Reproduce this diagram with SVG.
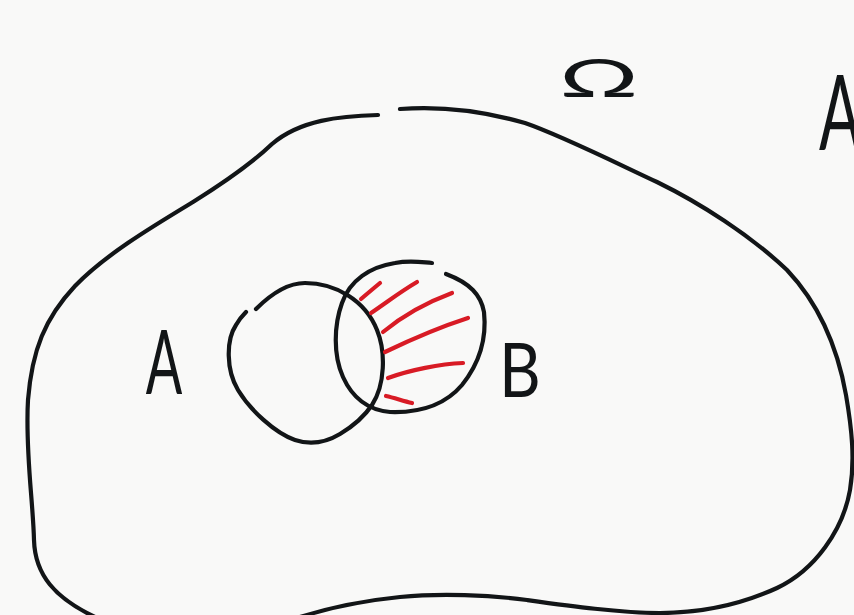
<svg xmlns="http://www.w3.org/2000/svg" width="854" height="615" viewBox="0 0 854 615">
<style>
.ink{fill:none;stroke:#121517;stroke-width:4.2;stroke-linecap:round;stroke-linejoin:round}
.red{fill:none;stroke:#d81b25;stroke-width:4.2;stroke-linecap:round;stroke-linejoin:round}
.lbl{font-family:Lato,"Liberation Sans",sans-serif;font-weight:400;fill:#121517;text-anchor:middle}
</style>
<rect width="854" height="615" fill="#f9f9f8"/>
<g id="omega">
<path class="ink" d="M378,115 C340,116 300,120 272,144 C250,165 225,182 193,202 C150,228 105,255 75,286 C45,318 32,350 28,400 C25,450 33,500 34,540 C35,575 55,598 95,617"/>
<path class="ink" d="M400,109 C440,106 480,110 525,123 C560,135 610,160 657,182 C700,203 750,235 787,270 C820,305 838,350 846,395 C852,430 855,460 850,490 C843,530 815,570 777,588 C740,605 700,613 660,613 C620,613 570,606 527,600 C490,595 440,593 400,597 C370,600 335,606 300,617"/>
<text class="lbl" font-size="52" transform="translate(599,97) scale(1.9,1)">Ω</text>
</g>
<g id="setA">
<path class="ink" d="M256,309 C275,290 290,283 305,283 C335,283 365,300 377,330 C386,352 385,385 372,405 C362,420 350,428 340,434 C325,443 310,445 295,440 C275,433 250,410 238,390 C226,370 226,340 236,325 C240,318 243,315 246,312"/>
<text class="lbl" font-size="90" transform="translate(164,394) scale(0.6,1)">A</text>
</g>
<g id="setB">
<path class="ink" d="M432,263 C420,262 410,260 395,263 C370,267 350,280 342,303 C334,325 333,355 343,377 C352,397 368,410 390,412 C420,413 445,405 462,385 C478,365 487,340 484,312 C481,295 470,283 446,274"/>
<text class="lbl" font-size="76" transform="translate(520,397) scale(0.85,1)">B</text>
</g>
<g id="hatching">
<path class="red" d="M361,299 C368,293 374,288 380,283"/>
<path class="red" d="M371,313 C390,300 400,292 417,282"/>
<path class="red" d="M383,332 C400,318 425,303 452,293"/>
<path class="red" d="M385,352 C410,340 440,327 468,318"/>
<path class="red" d="M388,378 C410,370 440,364 463,363"/>
<path class="red" d="M386,396 C395,398 403,401 412,403"/>
</g>
<g id="label-A-top">
<text class="lbl" font-size="104" transform="translate(840,150) scale(0.6,1)">A</text>
</g>
</svg>
